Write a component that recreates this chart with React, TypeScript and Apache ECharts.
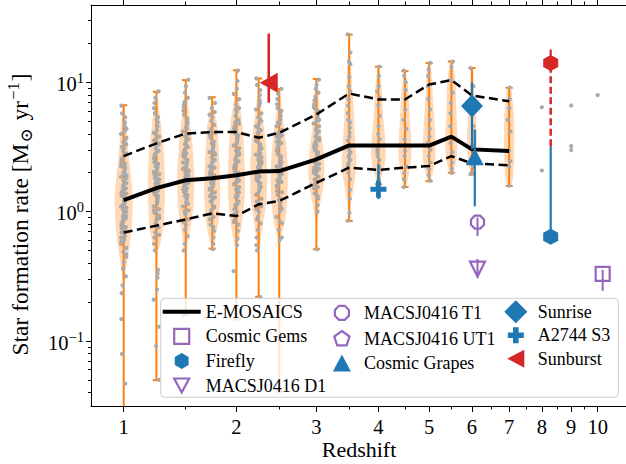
import React, { useEffect, useRef } from "react";
import * as echarts from "echarts";

const FONT = "'Liberation Serif', 'DejaVu Serif', serif";
const ORANGE = "#ff7f0e";
const BLUE = "#1f77b4";
const PURPLE = "#9467bd";
const RED = "#d62728";
const GREY = "#aaaaaa";

// ---- E-MOSAICS bins ----
const binZ = [1, 1.25, 1.5, 1.75, 2, 2.25, 2.5, 3, 3.5, 4, 4.5, 5, 5.5, 6, 7];
const medianSFR = [1.23, 1.52, 1.75, 1.81, 1.91, 2.04, 2.06, 2.54, 3.25, 3.25, 3.24, 3.24, 3.8, 3.03, 2.94];
const p84SFR = [2.69, 3.37, 4.02, 4.12, 4.12, 3.73, 4.07, 5.64, 8.19, 7.37, 7.37, 9.61, 10.4, 7.91, 7.14];
const p16SFR = [0.689, 0.78, 0.87, 0.97, 0.925, 1.14, 1.21, 1.67, 2.19, 2.1, 2.19, 2.25, 2.69, 2.36, 2.28];
const minSFR = [0.02, 0.0498, 0.159, 0.518, 0.147, 0.22, 0.0405, 0.512, 0.847, 1.63, 1.55, 1.72, 2.0, 1.94, 1.58];
const maxSFR = [6.65, 8.44, 10.4, 7.67, 12.4, 10.7, 8.9, 10.6, 23.4, 13.2, 12.2, 14.1, 14.5, 12.9, 9.07];

// violin density profiles: [log10 SFR, relative half-width]
const violin_z1_00 = [[0.81, 0.03], [0.75, 0.17], [0.64, 0.33], [0.48, 0.5], [0.33, 0.72], [0.17, 0.94], [0.06, 1], [-0.1, 0.89], [-0.25, 0.67], [-0.38, 0.39], [-0.46, 0.22], [-0.52, 0.11], [-0.59, 0.03]];
const violin_z1_25 = [[0.91, 0.03], [0.86, 0.17], [0.66, 0.52], [0.4, 0.86], [0.2, 0.93], [0.1, 0.92], [-0.11, 0.78], [-0.24, 0.44], [-0.31, 0.17], [-0.36, 0.03]];
const violin_z1_50 = [[0.97, 0.03], [0.79, 0.33], [0.54, 0.72], [0.28, 0.94], [0.13, 0.9], [0.02, 0.83], [-0.16, 0.44], [-0.27, 0.17], [-0.31, 0.03]];
const violin_z1_75 = [[0.86, 0.03], [0.79, 0.22], [0.66, 0.56], [0.4, 0.78], [0.15, 0.89], [-0.06, 0.72], [-0.21, 0.33], [-0.28, 0.05]];
const violin_z2_00 = [[0.99, 0.03], [0.92, 0.17], [0.66, 0.67], [0.4, 0.89], [0.15, 0.94], [-0.06, 0.67], [-0.21, 0.33], [-0.27, 0.11], [-0.3, 0.03]];
const violin_z2_25 = [[1.0, 0.03], [0.79, 0.33], [0.54, 0.78], [0.28, 0.94], [0.07, 0.83], [-0.11, 0.44], [-0.27, 0.17], [-0.31, 0.03]];
const violin_z2_50 = [[0.93, 0.03], [0.79, 0.28], [0.54, 0.72], [0.33, 0.94], [0.1, 0.89], [-0.06, 0.67], [-0.19, 0.22], [-0.24, 0.03]];
const violin_z3_00 = [[1.01, 0.03], [0.92, 0.22], [0.66, 0.44], [0.46, 0.78], [0.33, 0.89], [0.2, 0.78], [0.07, 0.44], [-0.03, 0.17], [-0.08, 0.03]];
const violin_z3_50 = [[1.36, 0.03], [1.2, 0.15], [1.0, 0.3], [0.85, 0.45], [0.71, 0.55], [0.51, 0.7], [0.4, 0.8], [0.28, 0.7], [0.15, 0.4], [0.04, 0.15], [-0.05, 0.03]];
const violin_z4_00 = [[1.11, 0.05], [0.97, 0.33], [0.71, 0.55], [0.46, 0.83], [0.33, 0.6], [0.25, 0.25], [0.21, 0.03]];
const violin_z4_50 = [[1.08, 0.05], [0.97, 0.33], [0.71, 0.55], [0.46, 0.72], [0.33, 0.55], [0.22, 0.22], [0.19, 0.03]];
const violin_z5_00 = [[1.14, 0.05], [1.1, 0.22], [0.84, 0.44], [0.58, 0.67], [0.4, 0.67], [0.28, 0.33], [0.24, 0.03]];
const violin_z5_50 = [[1.15, 0.1], [1.02, 0.44], [0.77, 0.55], [0.56, 0.67], [0.4, 0.55], [0.31, 0.22], [0.3, 0.03]];
const violin_z6_00 = [[1.11, 0.1], [0.84, 0.33], [0.58, 0.55], [0.4, 0.44], [0.3, 0.22], [0.29, 0.05]];
const violin_z7_00 = [[0.96, 0.2], [0.89, 0.33], [0.71, 0.55], [0.46, 0.55], [0.28, 0.44], [0.2, 0.2]];
const violinProfiles = [violin_z1_00, violin_z1_25, violin_z1_50, violin_z1_75, violin_z2_00, violin_z2_25, violin_z2_50, violin_z3_00, violin_z3_50, violin_z4_00, violin_z4_50, violin_z5_00, violin_z5_50, violin_z6_00, violin_z7_00];

// simulated clusters, log10 SFR
const dots_z1_00 = [0.82, 0.76, 0.73, 0.69, 0.66, 0.62, 0.6, 0.57, 0.54, 0.52, 0.49, 0.47, 0.45, 0.42, 0.4, 0.38, 0.36, 0.34, 0.33, 0.31, 0.29, 0.27, 0.26, 0.24, 0.22, 0.21, 0.19, 0.18, 0.16, 0.15, 0.13, 0.12, 0.1, 0.09, 0.07, 0.06, 0.04, 0.03, 0.01, 0.0, -0.02, -0.04, -0.05, -0.07, -0.09, -0.11, -0.13, -0.15, -0.17, -0.19, -0.22, -0.25, -0.28, -0.31, -0.35, -0.39, -0.44, -0.5, -0.57, -0.63, -0.83, -1.1, -1.33, -1.7,
  0.55, 0.43, 0.35, 0.28, 0.2, 0.14, 0.08, 0.02, -0.03, -0.1, -0.16, -0.23, 0.5, 0.37, 0.25, 0.11, -0.06, -0.2, 0.64, 0.3, -0.33, 0.17, 0.05, -0.12];
const dots_z1_25 = [0.93, 0.88, 0.84, 0.8, 0.76, 0.73, 0.69, 0.66, 0.63, 0.61, 0.58, 0.56, 0.53, 0.51, 0.49, 0.47, 0.45, 0.43, 0.41, 0.39, 0.37, 0.36, 0.34, 0.32, 0.3, 0.29, 0.27, 0.25, 0.24, 0.22, 0.2, 0.19, 0.17, 0.15, 0.14, 0.12, 0.1, 0.08, 0.06, 0.04, 0.02, 0.0, -0.03, -0.06, -0.09, -0.12, -0.16, -0.2, -0.25, -0.3, -0.45, -0.48, -0.51, -0.6, -0.68, -0.89, -1.04, -1.3,
  0.71, 0.6, 0.52, 0.44, 0.38, 0.31, 0.26, 0.21, 0.16, 0.11, 0.07, 0.01, -0.05, -0.11, -0.18, 0.48, 0.35, 0.23, 0.13, -0.01, 0.55, 0.28];
const dots_z1_50 = [1.02, 0.97, 0.92, 0.88, 0.85, 0.81, 0.78, 0.75, 0.72, 0.7, 0.67, 0.65, 0.62, 0.6, 0.58, 0.56, 0.54, 0.52, 0.5, 0.48, 0.46, 0.44, 0.42, 0.4, 0.39, 0.37, 0.35, 0.33, 0.31, 0.3, 0.28, 0.26, 0.24, 0.23, 0.21, 0.19, 0.17, 0.15, 0.13, 0.11, 0.09, 0.07, 0.04, 0.01, -0.02, -0.06, -0.1, -0.14, -0.19, -0.25, -0.3, -0.8,
  0.83, 0.69, 0.59, 0.51, 0.45, 0.38, 0.32, 0.27, 0.22, 0.16, 0.12, 0.06, 0.0, -0.08, 0.43, 0.34, 0.25, 0.18, 0.64, 0.29];
const dots_z1_75 = [0.88, 0.84, 0.8, 0.77, 0.73, 0.7, 0.67, 0.64, 0.62, 0.59, 0.57, 0.54, 0.52, 0.5, 0.48, 0.46, 0.44, 0.42, 0.4, 0.38, 0.36, 0.34, 0.32, 0.31, 0.29, 0.27, 0.25, 0.23, 0.21, 0.19, 0.17, 0.15, 0.13, 0.11, 0.09, 0.07, 0.04, 0.01, -0.02, -0.06, -0.1, -0.15, -0.2, -0.25, -0.29,
  0.75, 0.61, 0.53, 0.45, 0.39, 0.33, 0.28, 0.22, 0.18, 0.12, 0.08, 0.03, -0.04, -0.12, 0.47, 0.35, 0.26, 0.14];
const dots_z2_00 = [1.09, 1.01, 0.95, 0.91, 0.87, 0.83, 0.8, 0.77, 0.74, 0.71, 0.69, 0.66, 0.64, 0.61, 0.59, 0.57, 0.55, 0.53, 0.51, 0.49, 0.47, 0.45, 0.43, 0.41, 0.39, 0.37, 0.35, 0.33, 0.31, 0.29, 0.27, 0.25, 0.23, 0.21, 0.19, 0.17, 0.15, 0.13, 0.11, 0.08, 0.05, 0.02, -0.02, -0.06, -0.1, -0.15, -0.21, -0.26, -0.46, -0.83,
  0.79, 0.68, 0.6, 0.52, 0.46, 0.4, 0.34, 0.28, 0.22, 0.16, 0.12, 0.06, 0.0, -0.08, 0.44, 0.36, 0.24, 0.18, 0.63, 0.3];
const dots_z2_25 = [1.03, 0.98, 0.94, 0.9, 0.86, 0.82, 0.79, 0.76, 0.73, 0.7, 0.68, 0.65, 0.63, 0.61, 0.58, 0.56, 0.54, 0.52, 0.5, 0.48, 0.46, 0.44, 0.42, 0.4, 0.38, 0.36, 0.34, 0.32, 0.3, 0.28, 0.26, 0.24, 0.22, 0.2, 0.18, 0.16, 0.13, 0.1, 0.07, 0.04, 0.0, -0.04, -0.09, -0.14, -0.2, -0.26, -0.3, -0.66,
  0.84, 0.72, 0.62, 0.55, 0.49, 0.43, 0.37, 0.31, 0.25, 0.19, 0.14, 0.08, 0.02, -0.06, 0.45, 0.35, 0.27, 0.21, 0.66, 0.39];
const dots_z2_50 = [0.95, 0.91, 0.87, 0.83, 0.8, 0.77, 0.74, 0.71, 0.68, 0.66, 0.63, 0.61, 0.59, 0.57, 0.55, 0.53, 0.51, 0.49, 0.47, 0.45, 0.43, 0.41, 0.39, 0.37, 0.35, 0.33, 0.31, 0.29, 0.27, 0.25, 0.23, 0.21, 0.19, 0.16, 0.13, 0.1, 0.07, 0.04, 0.0, -0.04, -0.09, -0.14, -0.2, -0.22, -1.39,
  0.78, 0.69, 0.6, 0.54, 0.48, 0.42, 0.36, 0.32, 0.26, 0.2, 0.15, 0.09, 0.02, -0.07, 0.44, 0.38, 0.3, 0.24, 0.58, 0.34];
const dots_z3_00 = [1.02, 0.98, 0.95, 0.92, 0.89, 0.86, 0.83, 0.8, 0.78, 0.75, 0.73, 0.7, 0.68, 0.66, 0.64, 0.62, 0.6, 0.58, 0.56, 0.54, 0.52, 0.5, 0.48, 0.46, 0.45, 0.43, 0.41, 0.39, 0.37, 0.35, 0.33, 0.31, 0.29, 0.27, 0.24, 0.21, 0.18, 0.14, 0.1, 0.05, 0.0, -0.29,
  0.81, 0.71, 0.63, 0.57, 0.51, 0.47, 0.42, 0.38, 0.34, 0.3, 0.25, 0.19, 0.12, 0.44, 0.36, 0.32, 0.55, 0.4];
const dots_z3_50 = [1.37, 1.23, 1.16, 1.14, 1.04, 0.97, 0.93, 0.87, 0.82, 0.76, 0.71, 0.69, 0.65, 0.61, 0.58, 0.55, 0.51, 0.48, 0.46, 0.44, 0.42, 0.4, 0.38, 0.36, 0.34, 0.3, 0.25, 0.17, 0.1, -0.01, -0.07];
const dots_z4_00 = [1.12, 1.05, 0.97, 0.93, 0.88, 0.82, 0.74, 0.66, 0.6, 0.56, 0.51, 0.48, 0.46, 0.43, 0.4, 0.35, 0.3, 0.25, 0.21];
const dots_z4_50 = [1.09, 1.05, 1.0, 0.94, 0.87, 0.79, 0.71, 0.64, 0.56, 0.51, 0.47, 0.43, 0.35, 0.3, 0.25, 0.19];
const dots_z5_00 = [1.15, 1.1, 1.05, 0.97, 0.87, 0.79, 0.71, 0.64, 0.58, 0.53, 0.48, 0.43, 0.38, 0.33, 0.28, 0.24];
const dots_z5_50 = [1.16, 1.12, 1.02, 0.92, 0.84, 0.76, 0.66, 0.53, 0.46, 0.38, 0.33, 0.3];
const dots_z6_00 = [1.11, 0.97, 0.82, 0.66, 0.51, 0.4, 0.35, 0.3, 0.29];
const dots_z7_00 = [0.96, 0.87, 0.8, 0.71, 0.62, 0.47, 0.39, 0.35, 0.2];
const dotsByBin = [dots_z1_00, dots_z1_25, dots_z1_50, dots_z1_75, dots_z2_00, dots_z2_25, dots_z2_50, dots_z3_00, dots_z3_50, dots_z4_00, dots_z4_50, dots_z5_00, dots_z5_50, dots_z6_00, dots_z7_00];

// isolated simulated clusters at high z
const extraZ = [8, 8, 9, 9, 9, 10];
const extraSFR = [6.42, 2.08, 6.62, 3.21, 2.99, 7.95];

// ---- observed objects ----
const cosmicGems = { z: 10.2, sfr: 0.33, lo: 0.244, hi: 0.355 };
const firefly = { z: 8.29, sfr: 0.64, lo: 0.64, hi: 3.21 };
const fireflyUpper = { z: 8.29, sfr: 14.1, lo: 3.21, hi: 17.9 };
const macsD1 = { z: 6.14, sfr: 0.36, lo: 0.31, hi: 0.43 };
const macsT1 = { z: 6.14, sfr: 0.83, lo: 0.648, hi: 0.9 };
const cosmicGrapes = { z: 6.07, sfr: 2.66, lo: 1.1, hi: 4.32 };
const sunrise = { z: 6.0, sfr: 6.55, lo: 3.03, hi: 9.94 };
const a2744 = { z: 4.0, sfr: 1.49, lo: 1.25, hi: 2.32 };
const sunburst = { z: 2.37, sfr: 9.94, lo: 6.96, hi: 23.8 };

// ---- ticks ----
const majorTickZ = [1, 2, 3, 4, 5, 6, 7, 8, 9, 10];
const minorTickZ = [1.5, 2.5, 3.5, 4.5, 5.5, 6.5, 7.5, 8.5, 9.5];
const majorTickExp = [-1, 0, 1];
const minorTickMult = [2, 3, 4, 5, 6, 7, 8, 9];

const u = (z: number) => Math.log10(1 + z);
const lg = (v: number) => Math.log10(v);

const UMIN = 0.25;
const UMAX = 1.0872;
const YMIN = -1.5025;
const YMAX = 1.5976;
const VHALF = 0.0141;
const JITTER = [-2.6, 1.2, -0.4, 2.4, -1.8, 0.6, 2.9, -1.2, 1.8, -3, 0.2, -2.2, 1.4, 3.1, -0.8];

const minorY: number[] = [];
[-2, -1, 0, 1].forEach((d) => minorTickMult.forEach((k) => {
  const v = Math.log10(k) + d;
  if (v > YMIN && v < YMAX) minorY.push(v);
}));

const P_HEX = "path://M5,0L9.33,2.5L9.33,7.5L5,10L0.67,7.5L0.67,2.5Z";
const P_OCT = "path://M2.93,0H7.07L10,2.93V7.07L7.07,10H2.93L0,7.07V2.93Z";
const P_PLUS = "path://M3.5,0H6.5V3.5H10V6.5H6.5V10H3.5V6.5H0V3.5H3.5Z";
const P_DOWN = "path://M0,0H10L5,10Z";

const F = "M0,0M23,23";
const I_LINE = "path://M0,0M38,23M0,9.5H38V13.5H0Z";
const I_SQUARE = `path://${F}M4,4H19V19H4Z`;
const I_HEX = `path://${F}M11.5,3.5L18.43,7.5L18.43,15.5L11.5,19.5L4.57,15.5L4.57,7.5Z`;
const I_DOWN = `path://${F}M4,4.5H19L11.5,18.5Z`;
const I_OCT = `path://${F}M8.6,4.5H14.4L18.5,8.6V14.4L14.4,18.5H8.6L4.5,14.4V8.6Z`;
const I_PENT = `path://${F}M11.5,4L19.1,9.53L16.2,18.47L6.8,18.47L3.9,9.53Z`;
const I_TRI = `path://${F}M11.5,3L20.5,20H2.5Z`;
const I_DIAM = `path://${F}M11.5,0L23,11.5L11.5,23L0,11.5Z`;
const I_PLUS = `path://${F}M8.7,3.5H14.3V8.7H19.5V14.3H14.3V19.5H8.7V14.3H3.5V8.7H8.7Z`;
const I_LEFT = `path://${F}M3,11.5L20,2.5V20.5Z`;

const openStyle = { color: "rgba(0,0,0,0)", borderColor: PURPLE, borderWidth: 2.2, opacity: 1 };
const solid = (c: string) => ({ color: c, borderWidth: 0, opacity: 1 });

function errSeries(z: number, lo: number, hi: number, color: string, width: number, dash?: number[]) {
  return {
    type: "custom",
    silent: true,
    z: 5,
    clip: true,
    data: [[u(z), lg(lo), lg(hi)]],
    renderItem: (_p: any, api: any) => {
      const a = api.coord([api.value(0), api.value(1)]);
      const b = api.coord([api.value(0), api.value(2)]);
      return {
        type: "line",
        shape: { x1: a[0], y1: a[1], x2: b[0], y2: b[1] },
        style: { stroke: color, lineWidth: width, lineDash: dash || null },
      };
    },
  };
}

function markerSeries(name: string, obj: { z: number; sfr: number }, symbol: string, size: any, itemStyle: any, rotate = 0) {
  return {
    type: "scatter",
    name,
    z: 6,
    symbol,
    symbolSize: size,
    symbolRotate: rotate,
    itemStyle,
    data: [[u(obj.z), lg(obj.sfr)]],
  };
}

function buildOption() {
  const xBase = (pos: string) => ({
    type: "value",
    min: UMIN,
    max: UMAX,
    position: pos,
    splitLine: { show: false },
    axisLine: { onZero: false, show: false, lineStyle: { color: "#000", width: 1 } },
  });
  const yBase = () => ({
    type: "value",
    min: YMIN,
    max: YMAX,
    position: "left",
    splitLine: { show: false },
    axisLine: { onZero: false, show: false, lineStyle: { color: "#000", width: 1 } },
  });
  const tickStyle = { color: "#000", width: 1 };

  const dotData: any[] = [];
  binZ.forEach((z, i) => {
    const sc = z >= 3.5 ? 0.45 : 0.9;
    dotsByBin[i].forEach((v, j) => {
      dotData.push({ value: [u(z), v], symbolOffset: [JITTER[(j * 4 + i * 3) % JITTER.length] * sc, 0] });
    });
  });
  extraZ.forEach((z, i) => dotData.push({ value: [u(z), lg(extraSFR[i])] }));

  const legendBase = {
    orient: "vertical",
    padding: 0,
    itemGap: 0.5,
    itemHeight: 23,
    symbolKeepAspect: true,
    selectedMode: false,
    z: 10,
    textStyle: { fontFamily: FONT, fontSize: 18, color: "#000" },
  };

  return {
    animation: false,
    backgroundColor: "#fff",
    grid: { left: 91, right: -1, top: 5, bottom: 58, containLabel: false, outerBoundsMode: "none" },
    xAxis: [
      {
        ...xBase("bottom"),
        axisLine: { onZero: false, show: true, lineStyle: { color: "#000", width: 1 } },
        axisTick: { show: true, customValues: majorTickZ.map(u), length: 6, lineStyle: tickStyle },
        axisLabel: {
          customValues: majorTickZ.map(u),
          formatter: (v: number) => String(Math.round(Math.pow(10, v) - 1)),
          fontFamily: FONT, fontSize: 20.5, color: "#000", margin: 10,
        },
        name: "Redshift",
        nameLocation: "middle",
        nameGap: 32,
        nameMoveOverlap: false,
        nameTextStyle: { fontFamily: FONT, fontSize: 22, color: "#000" },
      },
      {
        ...xBase("bottom"),
        axisTick: { show: true, customValues: minorTickZ.map(u), length: 3.5, lineStyle: tickStyle },
        axisLabel: { show: false },
      },
      {
        ...xBase("top"),
        axisLine: { onZero: false, show: true, lineStyle: { color: "#000", width: 1 } },
        axisTick: { show: true, customValues: majorTickZ.map(u), length: 6, lineStyle: tickStyle },
        axisLabel: { show: false },
      },
      {
        ...xBase("top"),
        axisTick: { show: true, customValues: minorTickZ.map(u), length: 3.5, lineStyle: tickStyle },
        axisLabel: { show: false },
      },
    ],
    yAxis: [
      {
        ...yBase(),
        axisLine: { onZero: false, show: true, lineStyle: { color: "#000", width: 1 } },
        axisTick: { show: true, customValues: majorTickExp, length: 5, lineStyle: tickStyle },
        axisLabel: {
          customValues: majorTickExp,
          formatter: (v: number) => `{b|10}{s|${v < 0 ? "\u2212" + -v : v}}`,
          margin: 7,
          rich: {
            b: { fontFamily: FONT, fontSize: 20.5, lineHeight: 24, verticalAlign: "bottom", color: "#000" },
            s: { fontFamily: FONT, fontSize: 14.5, lineHeight: 14, verticalAlign: "top", color: "#000" },
          },
        },
        name: "{t|Star formation rate [M}{sub|\u2299}{t| yr}{sup|\u22121}{t|]}",
        nameLocation: "middle",
        nameRotate: 90,
        nameGap: 56,
        nameMoveOverlap: false,
        nameTextStyle: {
          fontFamily: FONT, fontSize: 23.5, color: "#000",
          padding: [0, 18, 0, 0],
          rich: {
            t: { fontFamily: FONT, fontSize: 23.5, lineHeight: 30, verticalAlign: "middle", color: "#000" },
            sub: { fontFamily: FONT, fontSize: 17, lineHeight: 22, verticalAlign: "bottom", color: "#000", padding: [0, 2, 0, 1] },
            sup: { fontFamily: FONT, fontSize: 16.5, lineHeight: 16, verticalAlign: "top", color: "#000", padding: [0, 1, 0, 1] },
          },
        },
      },
      {
        ...yBase(),
        axisTick: { show: true, customValues: minorY, length: 3, lineStyle: tickStyle },
        axisLabel: { show: false },
      },
    ],
    legend: [
      {
        ...legendBase, left: 162.7, top: 300.2, itemWidth: 38,
        data: [
          { name: "E-MOSAICS", icon: I_LINE, itemStyle: solid("#000") },
          { name: "Cosmic Gems", icon: I_SQUARE, itemStyle: openStyle },
          { name: "Firefly", icon: I_HEX, itemStyle: solid(BLUE) },
          { name: "MACSJ0416 D1", icon: I_DOWN, itemStyle: openStyle },
        ],
      },
      {
        ...legendBase, left: 329.3, top: 300.2, itemWidth: 34,
        data: [
          { name: "MACSJ0416 T1", icon: I_OCT, itemStyle: openStyle },
          { name: "MACSJ0416 UT1", icon: I_PENT, itemStyle: openStyle },
          { name: "Cosmic Grapes", icon: I_TRI, itemStyle: solid(BLUE) },
        ],
      },
      {
        ...legendBase, left: 504.3, top: 300.2, itemWidth: 34,
        data: [
          { name: "Sunrise", icon: I_DIAM, itemStyle: solid(BLUE) },
          { name: "A2744 S3", icon: I_PLUS, itemStyle: solid(BLUE) },
          { name: "Sunburst", icon: I_LEFT, itemStyle: solid(RED) },
        ],
      },
    ],
    graphic: {
      elements: [
        {
          type: "rect",
          z: 8,
          silent: true,
          shape: { x: 160.7, y: 298.3, width: 457.6, height: 99, r: 4 },
          style: { fill: "rgba(255,255,255,0.8)", stroke: "#cccccc", lineWidth: 1 },
        },
      ],
    },
    series: [
      // violin bodies
      {
        type: "custom",
        silent: true,
        z: 1,
        clip: true,
        data: binZ.map((z, i) => [u(z), lg(medianSFR[i]), i]),
        renderItem: (params: any, api: any) => {
          const i = params.dataIndex;
          const u0 = api.value(0);
          const prof = violinProfiles[i];
          const pts: number[][] = [];
          for (let k = 0; k < prof.length; k++) pts.push(api.coord([u0 + prof[k][1] * VHALF, prof[k][0]]));
          for (let k = prof.length - 1; k >= 0; k--) pts.push(api.coord([u0 - prof[k][1] * VHALF, prof[k][0]]));
          return { type: "polygon", shape: { points: pts, smooth: 0.3 }, style: { fill: "rgba(255,127,14,0.3)" } };
        },
      },
      // violin extrema bars
      {
        type: "custom",
        silent: true,
        z: 2,
        clip: true,
        data: binZ.map((z, i) => [u(z), lg(minSFR[i]), lg(maxSFR[i])]),
        renderItem: (_p: any, api: any) => {
          const a = api.coord([api.value(0), api.value(1)]);
          const b = api.coord([api.value(0), api.value(2)]);
          const cw = 3.6;
          const st = { stroke: ORANGE, lineWidth: 2 };
          return {
            type: "group",
            children: [
              { type: "line", shape: { x1: a[0], y1: a[1], x2: b[0], y2: b[1] }, style: st },
              { type: "line", shape: { x1: a[0] - cw, y1: a[1], x2: a[0] + cw, y2: a[1] }, style: st },
              { type: "line", shape: { x1: b[0] - cw, y1: b[1], x2: b[0] + cw, y2: b[1] }, style: st },
            ],
          };
        },
      },
      // simulated clusters
      {
        type: "scatter",
        silent: true,
        z: 3,
        symbol: "circle",
        symbolSize: 4.2,
        itemStyle: { color: GREY, opacity: 1 },
        data: dotData,
      },
      {
        type: "line",
        name: "E-MOSAICS",
        z: 4,
        showSymbol: false,
        symbol: "none",
        color: "#000",
        lineStyle: { color: "#000", width: 4 },
        data: binZ.map((z, i) => [u(z), lg(medianSFR[i])]),
      },
      {
        type: "line",
        name: "E-MOSAICS 84th",
        z: 4,
        showSymbol: false,
        symbol: "none",
        lineStyle: { color: "#000", width: 2.5, type: [9, 4.5] },
        data: binZ.map((z, i) => [u(z), lg(p84SFR[i])]),
      },
      {
        type: "line",
        name: "E-MOSAICS 16th",
        z: 4,
        showSymbol: false,
        symbol: "none",
        lineStyle: { color: "#000", width: 2.5, type: [9, 4.5] },
        data: binZ.map((z, i) => [u(z), lg(p16SFR[i])]),
      },
      // error bars
      errSeries(cosmicGems.z, cosmicGems.lo, cosmicGems.hi, PURPLE, 2),
      errSeries(firefly.z, firefly.lo, firefly.hi, BLUE, 2.2),
      errSeries(fireflyUpper.z, fireflyUpper.lo, fireflyUpper.sfr, RED, 2.5, [7, 3.5]),
      errSeries(fireflyUpper.z, fireflyUpper.sfr, fireflyUpper.hi, RED, 2.2),
      errSeries(macsD1.z, macsD1.lo, macsD1.hi, PURPLE, 2),
      errSeries(macsT1.z, macsT1.lo, macsT1.hi, PURPLE, 2),
      errSeries(cosmicGrapes.z, cosmicGrapes.lo, cosmicGrapes.hi, BLUE, 2.2),
      errSeries(sunrise.z, sunrise.lo, sunrise.hi, BLUE, 2.2),
      errSeries(a2744.z, a2744.lo, a2744.hi, BLUE, 2.2),
      errSeries(sunburst.z, sunburst.lo, sunburst.hi, RED, 2.6),
      // markers
      markerSeries("Cosmic Gems", cosmicGems, "rect", 14, openStyle),
      markerSeries("Firefly", firefly, P_HEX, [15, 16], solid(BLUE)),
      markerSeries("Firefly (upper)", fireflyUpper, P_HEX, [15, 16], solid(RED)),
      markerSeries("MACSJ0416 D1", macsD1, P_DOWN, [15, 15], openStyle),
      markerSeries("MACSJ0416 T1", macsT1, P_OCT, [13, 13], openStyle),
      { type: "scatter", name: "MACSJ0416 UT1", z: 6, symbol: "circle", itemStyle: openStyle, data: [] },
      markerSeries("Cosmic Grapes", cosmicGrapes, "triangle", [18, 17], solid(BLUE)),
      markerSeries("Sunrise", sunrise, "diamond", [22, 23], solid(BLUE)),
      markerSeries("A2744 S3", a2744, P_PLUS, [16, 17], solid(BLUE)),
      markerSeries("Sunburst", sunburst, "triangle", [20, 18], solid(RED), 90),
    ],
  };
}

export default function App() {
  const ref = useRef<HTMLDivElement>(null);
  useEffect(() => {
    if (!ref.current) return;
    const chart = echarts.init(ref.current, null, { renderer: "svg" });
    chart.setOption(buildOption() as any);
    return () => chart.dispose();
  }, []);
  return <div ref={ref} style={{ width: 626, height: 464, position: "absolute", left: 0, top: 0 }} />;
}
